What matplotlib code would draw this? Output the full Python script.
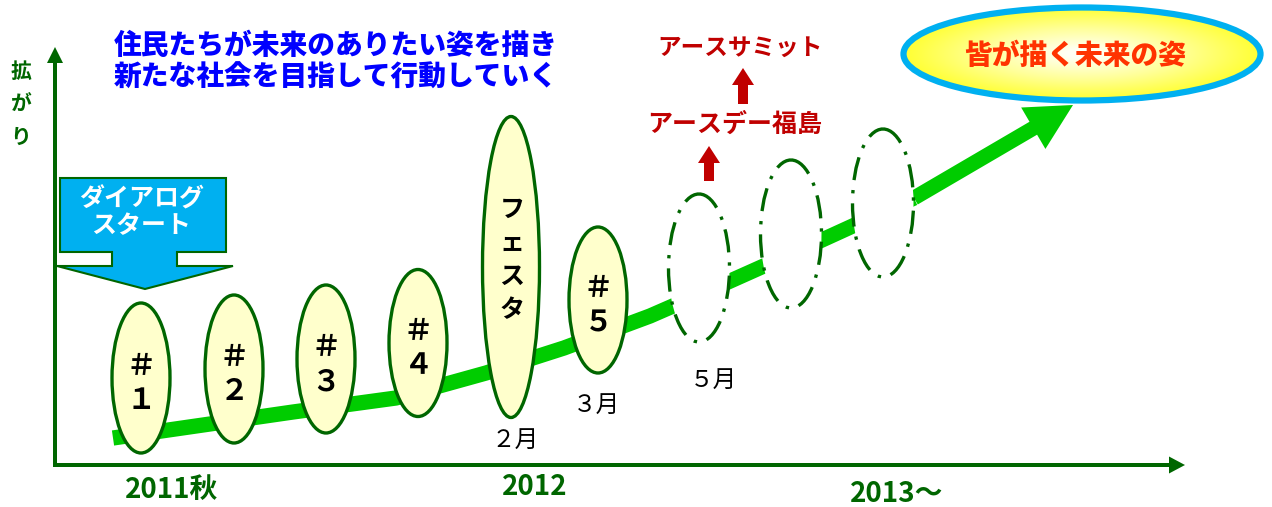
import numpy as np
import matplotlib
matplotlib.use("Agg")
import matplotlib.pyplot as plt
from matplotlib.patches import Ellipse, Polygon, FancyArrow
from matplotlib.colors import LinearSegmentedColormap

plt.rcParams["font.family"] = ["Noto Sans CJK JP", "DejaVu Sans"]

# ==============================
# data (pixel layout of the diagram)
# ==============================
title_lines = ["住民たちが未来のありたい姿を描き", "新たな社会を目指して行動していく"]
yaxis_chars = ["拡", "が", "り"]

session_labels = ["＃\n１", "＃\n２", "＃\n３", "＃\n４", "フ\nェ\nス\nタ", "＃\n５"]
session_x = [141, 234, 326, 418, 511, 598]
session_y = [378, 369, 359, 343, 267, 300]
session_h = [150, 148, 148, 147, 301, 146]

future_x = [699, 791, 883]
future_y = [268, 234, 203]

month_labels = ["２月", "３月", "５月"]
month_x = [515, 596, 713]
month_y = [440, 405, 380]

year_labels = ["2011秋", "2012", "2013～"]
year_x = [172, 535, 897]
year_y = [490, 487, 494]

trend_x = [113, 293, 396, 486, 564, 650, 728, 822, 914]
trend_y = [438, 412, 398, 373, 348, 316, 282, 240, 198]
trend_tip = (1073, 105)

events = ["アースデー福島", "アースサミット"]

DKGREEN = "#006600"
RED = "#C00000"

fig = plt.figure(figsize=(12.72, 5.07), dpi=100)
ax = fig.add_axes([0, 0, 1, 1])
ax.set_xlim(0, 1272)
ax.set_ylim(507, 0)
ax.axis("off")

# axes arrows
ax.add_patch(FancyArrow(55, 467, 0, -420, width=4, head_width=16, head_length=16,
                        length_includes_head=True, color=DKGREEN, lw=0, zorder=2))
ax.add_patch(FancyArrow(53, 465, 1132, 0, width=4, head_width=17, head_length=16,
                        length_includes_head=True, color=DKGREEN, lw=0, zorder=2))
for i, ch in enumerate(yaxis_chars):
    ax.text(21, 71 + 33 * i, ch, color=DKGREEN, fontsize=15, fontweight="bold",
            ha="center", va="center")

# title
for i, line in enumerate(title_lines):
    ax.text(336, 46 + 32 * i, line, color="#0000FF", fontsize=20, fontweight="heavy",
            ha="center", va="center")

# growth trend
ax.plot(trend_x, trend_y, color="#00CC00", lw=11, solid_capstyle="butt",
        solid_joinstyle="round", zorder=1)
ax.add_patch(FancyArrow(trend_x[-1], trend_y[-1], trend_tip[0] - trend_x[-1],
                        trend_tip[1] - trend_y[-1], width=15, head_width=48,
                        head_length=46, length_includes_head=True,
                        color="#00CC00", lw=0, zorder=1))

# dialog start arrow box
box = [(60, 178), (226, 178), (226, 252), (177, 252), (177, 266), (233, 266),
       (145, 289), (57, 266), (112, 266), (112, 252), (60, 252)]
ax.add_patch(Polygon(box, closed=True, facecolor="#00B0F0", edgecolor=DKGREEN,
                     lw=1.5, zorder=3))
ax.text(142, 199, "ダイアログ", color="white", fontsize=18, fontweight="bold",
        ha="center", va="center", zorder=4)
ax.text(141, 226, "スタート", color="white", fontsize=18, fontweight="bold",
        ha="center", va="center", zorder=4)

# sessions
for lab, x, y, h in zip(session_labels, session_x, session_y, session_h):
    w = 58 if h < 200 else 57
    ax.add_patch(Ellipse((x, y), w, h, facecolor="#FFFFCC", edgecolor=DKGREEN,
                         lw=2.4, zorder=2))
    if "フ" in lab:
        ax.text(x + 1, y - 7, lab, fontsize=18, fontweight="bold", ha="center",
                va="center", linespacing=1.5, zorder=3)
    else:
        ax.text(x, y + 5, lab, fontsize=21, fontweight="bold", ha="center",
                va="center", linespacing=1.2, zorder=3)

# future sessions
for x, y in zip(future_x, future_y):
    ax.add_patch(Ellipse((x, y), 61, 148, facecolor="white", edgecolor=DKGREEN,
                         lw=2.4, linestyle=(0, (7, 3, 1, 3)), zorder=2))

for lab, x, y in zip(month_labels, month_x, month_y):
    ax.text(x, y, lab, fontsize=17, ha="center", va="center", zorder=3)

for lab, x, y in zip(year_labels, year_x, year_y):
    ax.text(x, y, lab, color=DKGREEN, fontsize=20, fontweight="bold",
            ha="center", va="center")

# events
ax.add_patch(FancyArrow(709, 181, 0, -35, width=10, head_width=22, head_length=17,
                        length_includes_head=True, color=RED, lw=0))
ax.text(735, 125, events[0], color=RED, fontsize=18, fontweight="bold",
        ha="center", va="center")
ax.add_patch(FancyArrow(743, 104, 0, -36, width=10, head_width=22, head_length=17,
                        length_includes_head=True, color=RED, lw=0))
ax.text(740, 48, events[1], color=RED, fontsize=17, fontweight="bold",
        ha="center", va="center")

# goal
cx, cy, gw, gh = 1082, 54, 357, 93
goal = Ellipse((cx, cy), gw, gh, facecolor="none", edgecolor="#00B0F0", lw=4.5,
               zorder=5)
gx, gy = np.meshgrid(np.linspace(cx - gw / 2, cx + gw / 2, 400),
                     np.linspace(cy - gh / 2, cy + gh / 2, 120))
r = np.sqrt(((gx - cx) / (gw / 2)) ** 2 + ((gy - cy) / (gh / 2)) ** 2)
cmap = LinearSegmentedColormap.from_list("g", ["#FFFFF4", "#FFFF99", "#FFFF33"])
img = ax.imshow(np.clip(r * 1.1 - 0.1, 0, 1), cmap=cmap, vmin=0, vmax=1,
                extent=(cx - gw / 2, cx + gw / 2, cy + gh / 2, cy - gh / 2),
                origin="upper", zorder=4, aspect="auto")
clip = Ellipse((cx, cy), gw, gh, transform=ax.transData)
img.set_clip_path(clip)
ax.add_patch(goal)
ax.text(1075, 56, "皆が描く未来の姿", color="#FF3300", fontsize=20, fontweight="heavy",
        ha="center", va="center", zorder=6)

ax.set_xlim(0, 1272)
ax.set_ylim(507, 0)
fig.savefig("out.png", dpi=100)
